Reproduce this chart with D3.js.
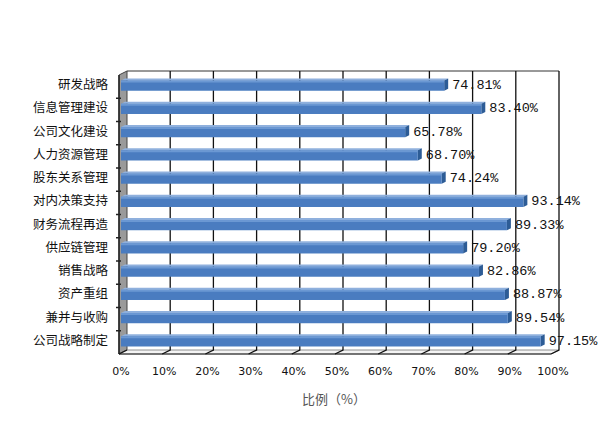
<!DOCTYPE html>
<html><head><meta charset="utf-8">
<script src="https://cdn.jsdelivr.net/npm/d3@7"></script>
<style>body{margin:0;background:#fff}</style>
</head><body>
<svg id="c" width="600" height="421"></svg>
<script>
const categories = ["研发战略","信息管理建设","公司文化建设","人力资源管理","股东关系管理","对内决策支持","财务流程再造","供应链管理","销售战略","资产重组","兼并与收购","公司战略制定"];
const values = [74.81,83.40,65.78,68.70,74.24,93.14,89.33,79.20,82.86,88.87,89.54,97.15];
const tickValues = [0,10,20,30,40,50,60,70,80,90,100];
const axisTitle = "比例（%）";

(function(){
const svg = d3.select("#c");
const DX = 8, DY = 4;               // depth offset (back -> front)
const yTop = 71, yBot = 350;
const x = d3.scaleLinear().domain([0,100]).range([127,559]);  // back plane
const y = d3.scaleBand().domain(categories).range([yTop,yBot]).paddingInner(0.56).paddingOuter(0.28);
const P = (v, yy, z) => [x(v) - DX*z, yy + DY*z];

// left wall
svg.append("polygon")
  .attr("points", [[119,yTop+DY],[127,yTop],[127,yBot],[119,yBot+DY]].join(" "))
  .attr("fill","#9a9a9a").attr("stroke","#444").attr("stroke-width",1);
svg.append("line").attr("x1",119).attr("x2",119).attr("y1",yTop+DY).attr("y2",yBot+DY)
  .attr("stroke","#222").attr("stroke-width",1.5);
// floor
svg.append("polygon")
  .attr("points", [P(0,yBot,0),P(100,yBot,0),P(100,yBot,1),P(0,yBot,1)].join(" "))
  .attr("fill","#f4f4f4").attr("stroke","#777").attr("stroke-width",0.8);
svg.append("line").attr("x1",P(0,yBot,1)[0]).attr("x2",P(100,yBot,1)[0])
  .attr("y1",yBot+DY).attr("y2",yBot+DY).attr("stroke","#222").attr("stroke-width",1.2);
// top line of back wall
svg.append("line").attr("x1",x(0)).attr("x2",x(100)).attr("y1",yTop).attr("y2",yTop)
  .attr("stroke","#333").attr("stroke-width",1);
// gridlines
tickValues.forEach(t => {
  const pts = t === 0 ? [P(t,yBot,0),P(t,yBot,1)] : [[x(t),yTop],P(t,yBot,0),P(t,yBot,1)];
  svg.append("polyline").attr("points", pts.join(" ")).attr("fill","none")
    .attr("stroke","#111").attr("stroke-width",1.3);
});
// category tick marks on wall
categories.forEach((c,i) => {
  if (i === 0) return;
  const yy = y(c) - y.step()*y.paddingInner()/2 + DY;
  svg.append("line").attr("x1",116).attr("x2",121).attr("y1",yy).attr("y2",yy)
    .attr("stroke","#222").attr("stroke-width",1.5);
});

// bars
const z0 = 0.25, z1 = 0.75;
const g = svg.append("g");
categories.forEach((c,i) => {
  const v = values[i];
  const yt = y(c), yb = y(c) + y.bandwidth();
  g.append("polygon").attr("points",[P(0,yt,z1),P(v,yt,z1),P(v,yt,z0),P(0,yt,z0)].join(" "))
    .attr("fill","#8fb0dd");
  g.append("polygon").attr("points",[P(v,yt,z1),P(v,yt,z0),P(v,yb,z0),P(v,yb,z1)].join(" "))
    .attr("fill","#2d5c96");
  const a = P(0,yt,z1), b = P(v,yb,z1);
  g.append("rect").attr("x",a[0]).attr("y",a[1]).attr("width",b[0]-a[0]).attr("height",b[1]-a[1])
    .attr("fill","#4a7cc0");
  g.append("rect").attr("x",a[0]).attr("y",a[1]).attr("width",b[0]-a[0]).attr("height",2)
    .attr("fill","#6b98d3");
  svg.append("text").attr("x", x(v) + 2).attr("y", (yt+yb)/2 + DY*0.5 + 1)
    .attr("dominant-baseline","middle")
    .attr("font-family","Liberation Mono, DejaVu Sans Mono, monospace").attr("font-size",13.5)
    .attr("fill","#111").text(v.toFixed(2) + "%");
  svg.append("text").attr("x",108).attr("y",(yt+yb)/2 + DY*0.5 + 1)
    .attr("text-anchor","end").attr("dominant-baseline","middle")
    .attr("font-family","Noto Sans CJK SC, sans-serif").attr("font-size",12.5)
    .attr("fill","#111").text(c);
});

tickValues.forEach(t => {
  svg.append("text").attr("x", P(t,yBot,1)[0] + 2).attr("y", 372)
    .attr("text-anchor","middle").attr("dominant-baseline","middle")
    .attr("font-family","DejaVu Sans, sans-serif").attr("font-size",11)
    .attr("fill","#111").text(t + "%");
});
svg.append("text").attr("x",334).attr("y",400).attr("text-anchor","middle")
  .attr("dominant-baseline","middle").attr("font-family","Noto Sans CJK SC, sans-serif")
  .attr("font-size",13).attr("fill","#555").text(axisTitle);
})();
</script>
</body></html>
